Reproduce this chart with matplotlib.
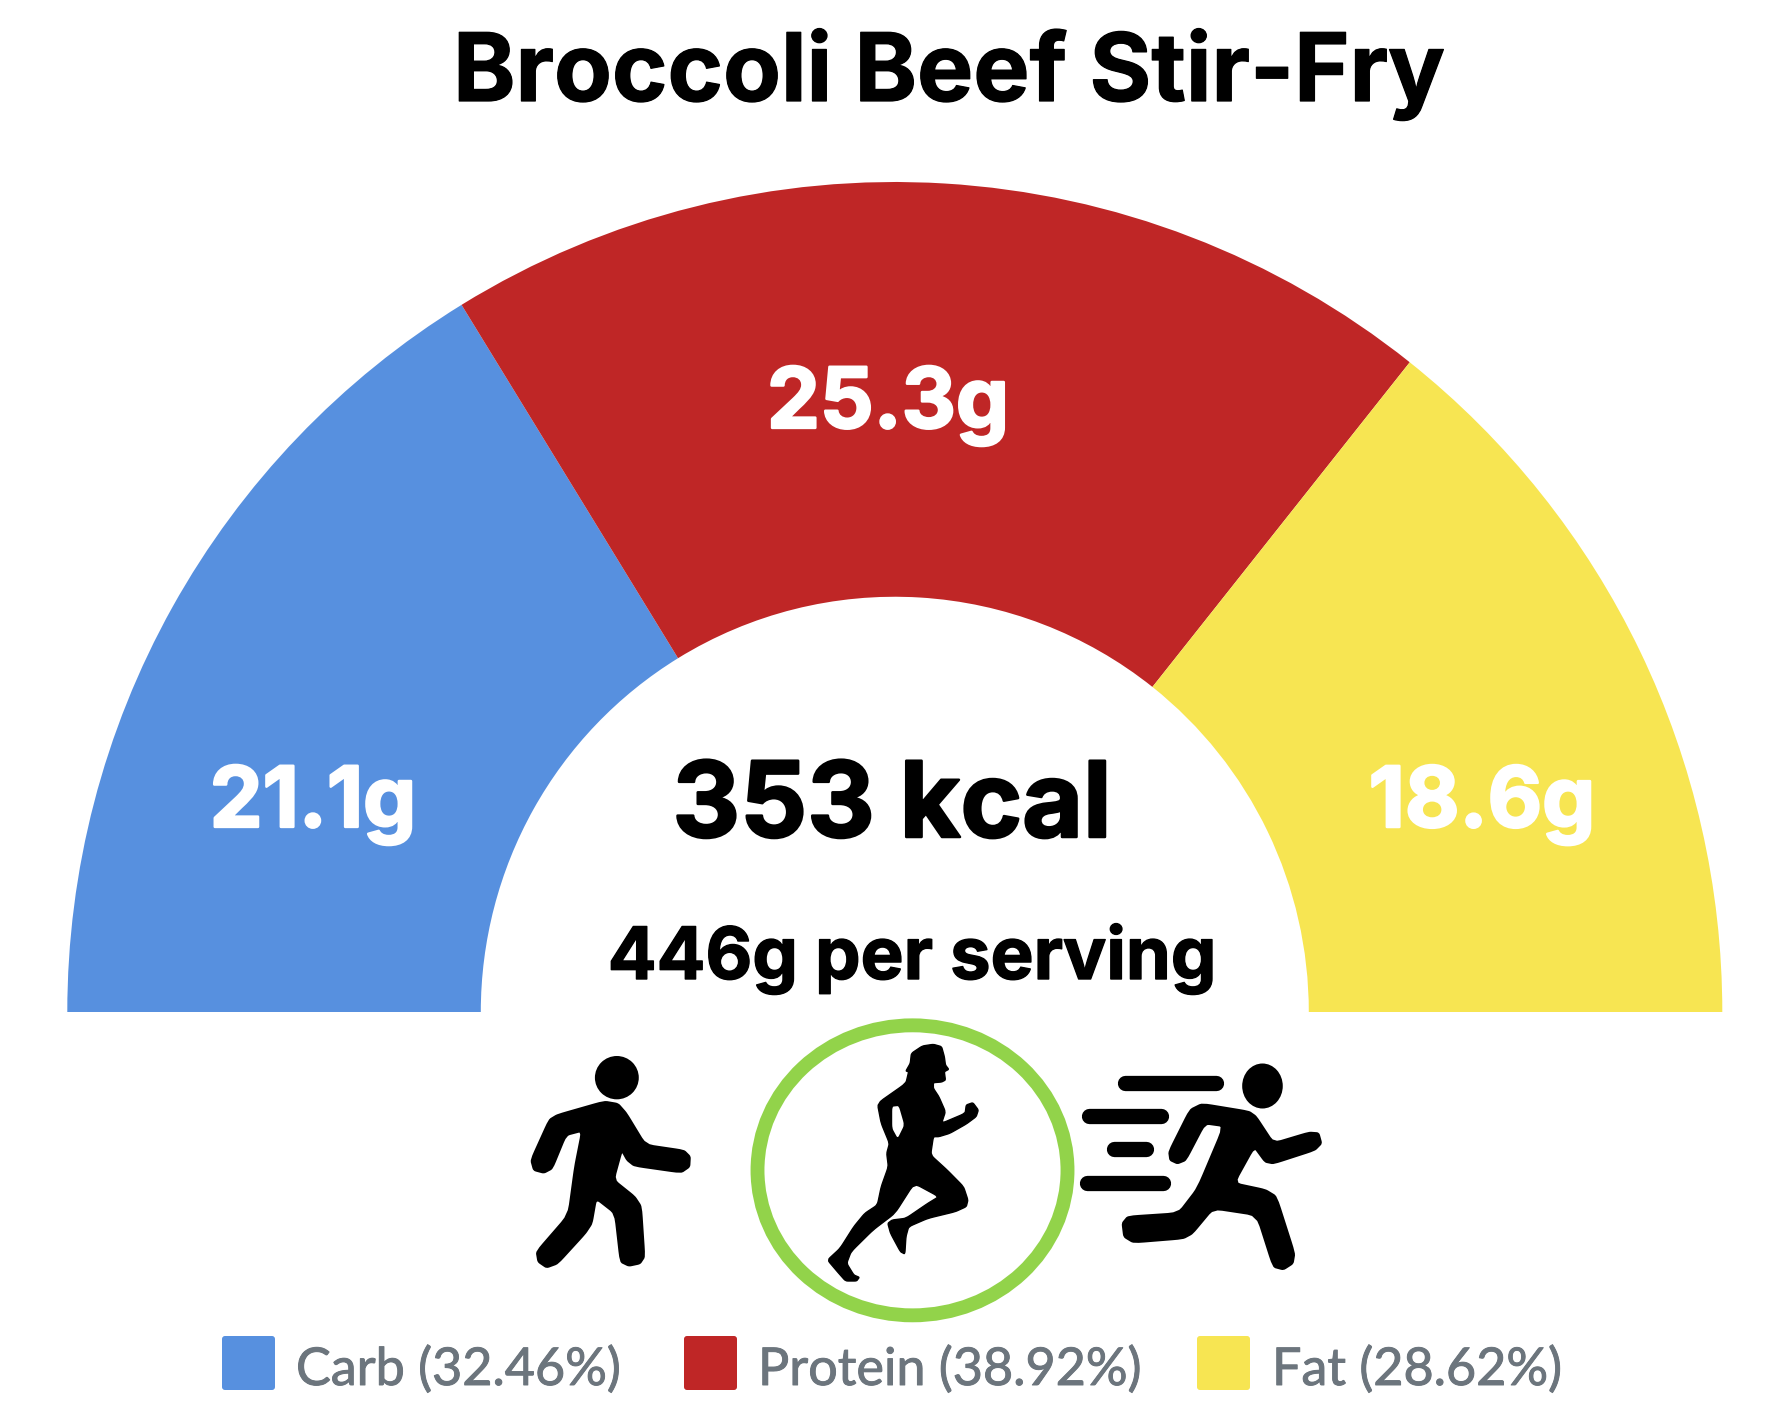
import matplotlib
matplotlib.use("Agg")
import matplotlib.pyplot as plt
import matplotlib.patheffects as pe
from matplotlib.patches import Wedge, Polygon, Ellipse, FancyBboxPatch
from matplotlib.transforms import Affine2D

title = "Broccoli Beef Stir-Fry"
macros = ["Carb", "Protein", "Fat"]
grams = [21.1, 25.3, 18.6]
percents = [32.46, 38.92, 28.62]
colors = ["#5790DF", "#BF2626", "#F7E552"]
calories = 353
serving_grams = 446

W, H = 1774, 1412
fig = plt.figure(figsize=(W / 100, H / 100), dpi=100)
ax = fig.add_axes([0, 0, 1, 1])
ax.set_xlim(0, W)
ax.set_ylim(0, H)
ax.axis("off")

def Y(py):
    return H - py

HEAD = "Inter"
plt.rcParams["font.family"] = ["Inter", "DejaVu Sans"]

def heavy(width, col):
    return [pe.withStroke(linewidth=width, foreground=col)]

# gauge
cx, cy, R, r = 894.8, 1012, 827.5, 414
gauge_tf = Affine2D().scale(1, 830 / 827.5).translate(cx, Y(cy)) + ax.transData
total = sum(percents)
theta = 180.0
label_pos = [(313, 805), (888, 406), (1482, 805)]
for p, c, g, lp in zip(percents, colors, grams, label_pos):
    sweep = 180.0 * p / total
    ax.add_patch(Wedge((0, 0), R, theta - sweep, theta, width=R - r, fc=c, ec="none", transform=gauge_tf))
    theta -= sweep
    ax.text(lp[0], Y(lp[1]), f"{g}g", color="white", fontsize=60.5, fontweight="bold",
            ha="center", va="center", family=HEAD, path_effects=heavy(1.8, "white"))

ax.text(949, Y(101), title, fontsize=68, fontweight="bold", ha="center", va="baseline", family=HEAD,
        color="black", path_effects=heavy(0.9, "black"))
ax.text(892, Y(837), f"{calories} kcal", fontsize=75.5, fontweight="bold", ha="center", va="baseline", family=HEAD,
        color="black", path_effects=heavy(1.8, "black"))
ax.text(912, Y(979), f"{serving_grams}g per serving", fontsize=52, fontweight="bold", ha="center", va="baseline", family=HEAD,
        color="black", path_effects=heavy(1.0, "black"))

# icons traced in zoom coordinates
def Z(x, y):
    return (500 + x / 1.823, Y(1000 + y / 3.0))

def soften(pts, n=2, cut=0.12):
    for _ in range(n):
        out = []
        for i, a in enumerate(pts):
            b = pts[(i + 1) % len(pts)]
            out.append(((1 - cut) * a[0] + cut * b[0], (1 - cut) * a[1] + cut * b[1]))
            out.append((cut * a[0] + (1 - cut) * b[0], cut * a[1] + (1 - cut) * b[1]))
        pts = out
    return pts

def poly(pts, fc="black", lw=1.5):
    ax.add_patch(Polygon([Z(*p) for p in soften(pts)], closed=True, fc=fc, ec=fc, lw=lw, joinstyle="round"))

def ell(x, y, w, h):
    ax.add_patch(Ellipse(Z(x, y), w / 1.823, h / 3.0, fc="black", ec="none"))

walker = [(190,305),(215,312),(230,340),(265,435),(335,452),(346,470),(345,500),(330,517),(245,497),(232,480),(222,450),
          (207,540),(245,590),(257,620),(263,770),(255,790),(235,797),(220,785),(210,640),(175,595),(167,670),(155,700),
          (105,790),(85,802),(70,785),(67,755),(125,645),(137,500),(150,392),(120,405),(95,505),(80,518),(62,510),(57,480),
          (90,360),(105,345)]
poly(walker)
ell(213, 233, 80, 130)

runner = [(1280,312),(1365,335),(1378,350),(1410,430),(1475,398),(1492,400),(1497,430),(1485,450),(1410,490),(1395,485),
          (1375,440),(1338,550),(1395,570),(1415,590),(1448,760),(1445,790),(1428,808),(1410,800),(1380,645),(1300,625),
          (1262,700),(1245,715),(1155,727),(1138,710),(1135,670),(1145,650),(1237,640),(1272,565),(1320,378),(1285,370),
          (1250,480),(1235,490),(1222,480),(1220,455),(1258,330)]
poly(runner)
ell(1390, 258, 74, 135)
for x0, x1, y in [(1140,1305,249),(1073,1205,348),(1120,1178,448),(1070,1208,548)]:
    a, b = Z(x0, y), Z(x1, y)
    ax.plot([a[0], b[0]], [a[1], b[1]], color="black", lw=11, solid_capstyle="round")

woman = [(790,133),(805,140),(810,170),(812,195),(818,208),(810,215),(812,240),(805,246),(790,248),(790,265),(800,290),
         (812,335),(805,370),(848,340),(850,315),(862,308),(872,330),(868,350),(850,372),(820,400),(800,410),(790,410),
         (785,465),(815,510),(845,560),(853,600),(850,620),(830,635),(780,655),(745,680),(740,710),(738,762),(730,755),
         (712,700),(707,670),(715,660),(740,655),(780,610),(800,590),(755,550),(720,640),(680,690),(640,755),(632,790),
         (645,825),(655,832),(650,843),(630,843),(615,815),(597,780),(620,745),(645,680),(665,640),(688,615),(695,560),
         (708,500),(705,460),(710,430),(695,370),(688,310),(740,250),(745,215),(740,213),(748,190),(750,160),(770,138)]
poly(woman, lw=1.0)
poly([(715,320),(727,318),(737,375),(725,415),(715,385)], fc="white", lw=0)

ring_c = Z(752, 511)
ax.add_patch(Ellipse(ring_c, 310, 290, fc="none", ec="#92D34A", lw=10))

# legend
swatch_x = [222, 684, 1197]
text_x = [296, 758, 1272]
for m, p, c, sx, tx in zip(macros, percents, colors, swatch_x, text_x):
    ax.add_patch(FancyBboxPatch((sx + 3, Y(1390) + 3), 47, 48, boxstyle="round,pad=3", fc=c, ec="none"))
    ax.text(tx, Y(1385), f"{m} ({p}%)", fontsize=37.5, color="#6C757D", family="Lato", ha="left", va="baseline",
            path_effects=heavy(0.7, "#6C757D"))

fig.savefig("out.png", dpi=100, facecolor="white")
